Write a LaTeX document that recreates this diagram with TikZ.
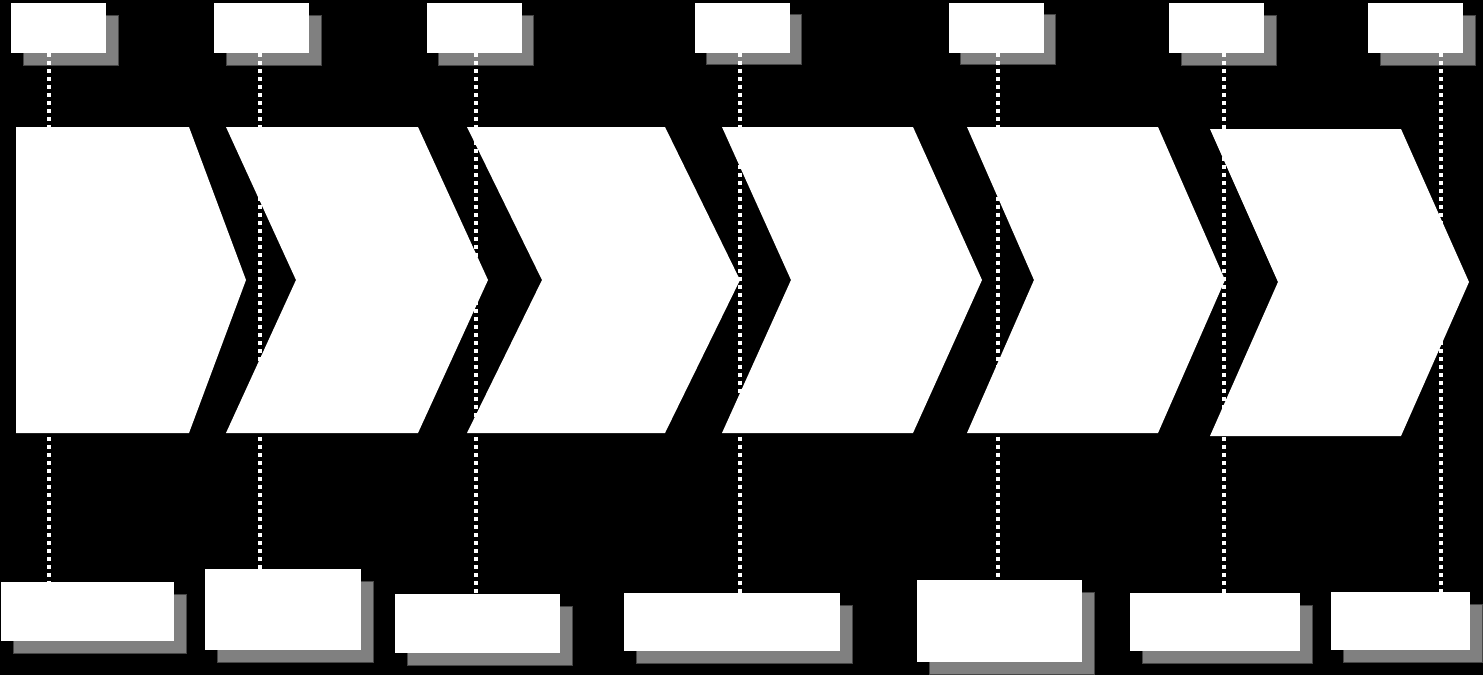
\documentclass[tikz,border=0pt]{standalone}
\usetikzlibrary{shadows}
\begin{document}
\begin{tikzpicture}[x=1pt,y=-1pt,
  card/.style={rectangle,inner sep=0pt,fill=white,draw=none,
    general shadow={shadow xshift=12pt,shadow yshift=-12pt,fill=gray,draw=gray!55!black,line width=0.8pt}},
  topcard/.style={card,minimum width=95pt,minimum height=50pt},
  dotline/.style={draw=white,line width=4pt,dash pattern=on 4pt off 4pt},
  chev/.style={fill=white,draw=none}]
\fill[black] (0,0) rectangle (1483,675);
\useasboundingbox (0,0) rectangle (1483,675);
% top boxes
\node[topcard] (t1) at (58.5,28) {};
\node[topcard] (t2) at (261.5,28) {};
\node[topcard] (t3) at (474,28) {};
\node[topcard] (t4) at (742,27.5) {};
\node[topcard] (t5) at (996,27.5) {};
\node[topcard] (t6) at (1216.5,28) {};
\node[topcard] (t7) at (1415.5,28) {};
% bottom boxes
\node[card,minimum width=173pt,minimum height=59pt] (b1) at (87.5,611.5) {};
\node[card,minimum width=156pt,minimum height=81pt] (b2) at (283,609.5) {};
\node[card,minimum width=165pt,minimum height=59pt] (b3) at (477.5,623.5) {};
\node[card,minimum width=216pt,minimum height=58pt] (b4) at (732,622) {};
\node[card,minimum width=165pt,minimum height=82pt] (b5) at (999.5,621) {};
\node[card,minimum width=170pt,minimum height=58pt] (b6) at (1215,622) {};
\node[card,minimum width=139pt,minimum height=58pt] (b7) at (1400.5,621) {};
% line positions
\coordinate (L1) at (49,0);
\coordinate (L2) at (260,0);
\coordinate (L3) at (476,0);
\coordinate (L4) at (740,0);
\coordinate (L5) at (998,0);
\coordinate (L6) at (1224,0);
\coordinate (L7) at (1441,0);
\foreach \i in {1,...,7}{
  \draw[dotline] (t\i.south -| L\i) -- (b\i.north -| L\i);
}
% chevrons
\fill[chev] (16,127) -- (189,127) -- (246,280) -- (189,433) -- (16,433) -- cycle;
\fill[chev] (226,127) -- (418,127) -- (488,280) -- (418,433) -- (226,433) -- (296,280) -- cycle;
\fill[chev] (467,127) -- (665,127) -- (740,280) -- (665,433) -- (467,433) -- (542,280) -- cycle;
\fill[chev] (722,127) -- (913,127) -- (982,280) -- (913,433) -- (722,433) -- (791,280) -- cycle;
\fill[chev] (967,127) -- (1158,127) -- (1225,280) -- (1158,433) -- (967,433) -- (1034,280) -- cycle;
\fill[chev] (1210,129) -- (1401,129) -- (1469,282) -- (1401,436) -- (1210,436) -- (1278,282) -- cycle;
\end{tikzpicture}
\end{document}
